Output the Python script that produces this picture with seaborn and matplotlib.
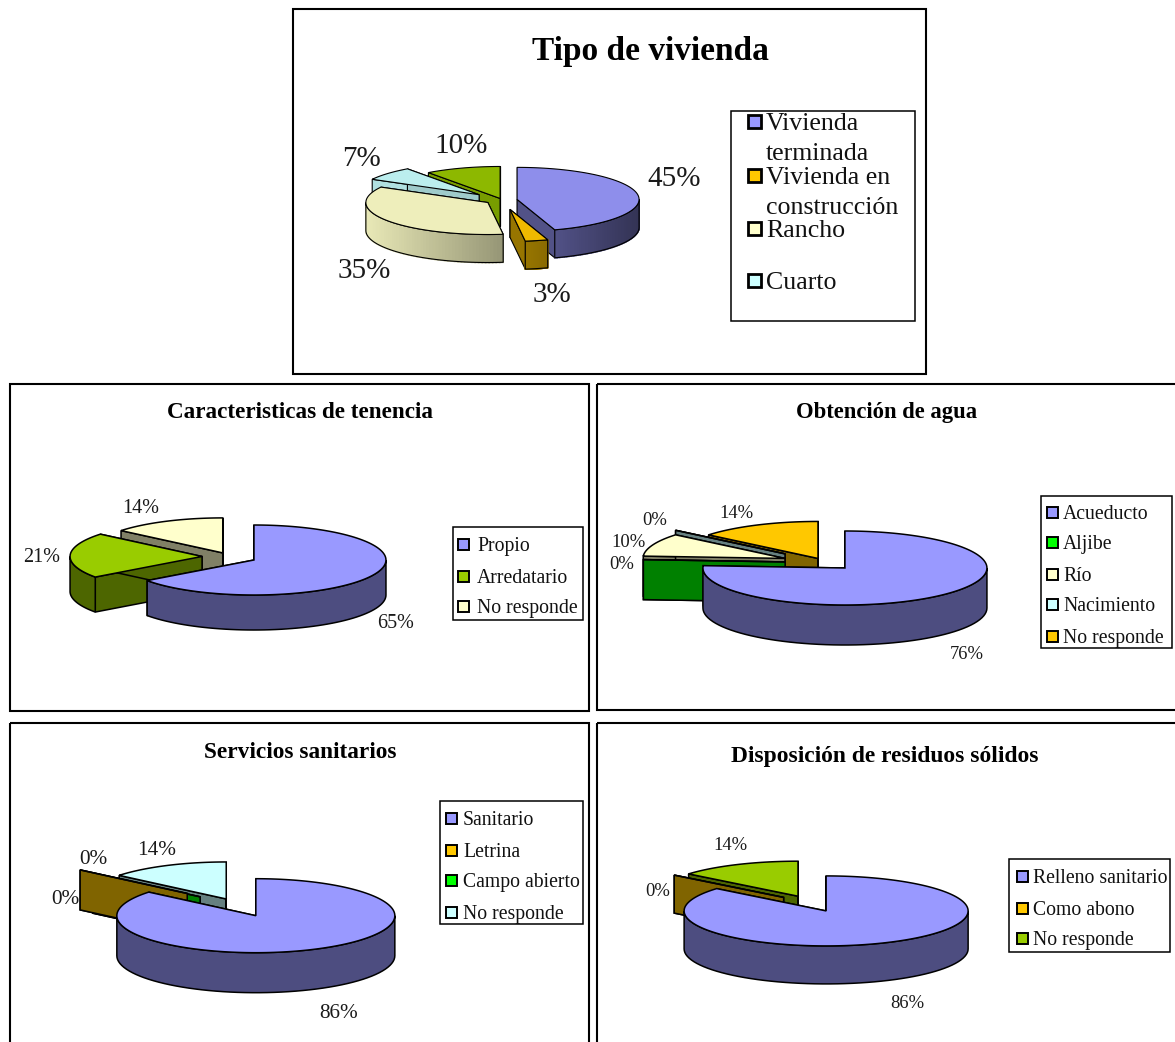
import numpy as np
import matplotlib
matplotlib.use("Agg")
import matplotlib.pyplot as plt
from matplotlib.colors import to_rgb
from matplotlib.patches import Polygon, Rectangle
import seaborn as sns

# ---------- data ----------
vivienda_labels = ["Vivienda\nterminada", "Vivienda en\nconstrucción", "Rancho", "Cuarto"]
vivienda_values = [45, 3, 35, 7, 10]
tenencia_labels = ["Propio", "Arredatario", "No responde"]
tenencia_values = [65, 21, 14]
agua_labels = ["Acueducto", "Aljibe", "Río", "Nacimiento", "No responde"]
agua_values = [76, 0, 10, 0, 14]
sanitarios_labels = ["Sanitario", "Letrina", "Campo abierto", "No responde"]
sanitarios_values = [86, 0, 0, 14]
residuos_labels = ["Relleno sanitario", "Como abono", "No responde"]
residuos_values = [86, 0, 14]

# ---------- styles ----------
PERI, ORANGE, CREAM, CYAN, LIME, GREEN = sns.color_palette(
    ["#9999FF", "#FFC800", "#FFFFCC", "#CCFFFF", "#99CC00", "#00FF00"])
MUTED = sns.color_palette(["#8E8EEB", "#EFB900", "#EEEEBB", "#BBEEEE", "#8DB800"])

panels = [
    dict(title="Tipo de vivienda", tsize=24, ty=48, tx=650, frame=(293, 9, 926, 374),
         values=vivienda_values, labels=vivienda_labels,
         colors=MUTED, legend_colors=[PERI, ORANGE, CREAM, CYAN],
         center=(502, 200), a=122, b=32, depth=28, gradient=True, lw=0.8,
         explode=[.125, .30, .14, .25, .05], lift=[0, 0, 0, 0, 0],
         label_pos=[(674, 176), (552, 292), (364, 268), (362, 156), (461, 143)], lsize=21,
         legend=(731, 111, 915, 321), mx=754, tx_leg=766, rows=[121, 175, 228, 280], fs=18.6, dy=30,
         msize=13, mlw=2.0),
    dict(title="Caracteristicas de tenencia", tsize=16.7, ty=410, tx=300, frame=(10, 384, 589, 711),
         values=tenencia_values, labels=tenencia_labels,
         colors=[PERI, LIME, CREAM], legend_colors=[PERI, LIME, CREAM],
         center=(229.5, 556.7), a=132, b=35, depth=35, gradient=False, lw=1.1,
         explode=[.208, .208, .12], lift=[0, 0, 0],
         label_pos=[(396, 621), (42, 555), (141, 506)], lsize=14.5,
         legend=(453, 527, 583, 620), mx=463, tx_leg=477, rows=[544, 576, 606], fs=14.2, dy=0,
         msize=11, mlw=1.4),
    dict(title="Obtención de agua", tsize=16.3, ty=410, tx=887, frame=(597, 384, 1300, 710),
         values=agua_values, labels=agua_labels,
         colors=[PERI, GREEN, CREAM, CYAN, ORANGE], legend_colors=[PERI, GREEN, CREAM, CYAN, ORANGE],
         center=(825.5, 562.6), a=142, b=37, depth=40, gradient=False, lw=1.1,
         explode=[.20, .285, .307, .37, .124], lift=[0, 0, 0, 0, 0],
         label_pos=[(967, 652), (622, 562), (628, 540), (655, 518), (736, 511)], lsize=13.4,
         legend=(1041, 496, 1172, 648), mx=1052, tx_leg=1063, rows=[512, 542, 574, 604, 636], fs=14.2, dy=0,
         msize=11, mlw=1.4),
    dict(title="Servicios sanitarios", tsize=16.8, ty=750, tx=300, frame=(10, 723, 589, 1100),
         values=sanitarios_values, labels=sanitarios_labels,
         colors=[PERI, ORANGE, GREEN, CYAN], legend_colors=[PERI, ORANGE, GREEN, CYAN],
         center=(244, 909), a=139, b=37, depth=40, gradient=False, lw=1.1,
         explode=[.20, .53, .41, .30], lift=[0, -3, -2.5, 0],
         label_pos=[(339, 1011), (93, 857), (65, 897), (157, 848)], lsize=15.3,
         legend=(440, 801, 583, 924), mx=451, tx_leg=463, rows=[818, 850, 880, 912], fs=14.2, dy=0,
         msize=11, mlw=1.4),
    dict(title="Disposición de residuos sólidos", tsize=16.9, ty=754, tx=885, frame=(597, 723, 1300, 1100),
         values=residuos_values, labels=residuos_labels,
         colors=[PERI, ORANGE, LIME], legend_colors=[PERI, ORANGE, LIME],
         center=(811, 903), a=142, b=35, depth=38, gradient=False, lw=1.1,
         explode=[.25, .25, .215], lift=[0, 0, 0],
         label_pos=[(907, 1001), (658, 889), (730, 843)], lsize=13.4,
         legend=(1009, 859, 1170, 952), mx=1022, tx_leg=1033, rows=[876, 908, 938], fs=14.2, dy=0,
         msize=11, mlw=1.4),
]

sns.set_theme(style="white")
plt.rcParams["font.family"] = ["Liberation Serif", "DejaVu Serif"]

fig = plt.figure(figsize=(11.75, 10.42), dpi=100)
ax = fig.add_axes([0, 0, 1, 1])
ax.set_xlim(0, 1175)
ax.set_ylim(1042, 0)
ax.axis("off")
INK = "#000000"


def shade(color, t, gradient):
    """Side-wall colour for the wall at clockwise angle t (radians)."""
    f = 0.67 - 0.31 * np.sin(t) if gradient else 0.5
    return tuple(np.clip(np.array(to_rgb(color)) * f, 0, 1))


def put(x, y, s, fs, **kw):
    """Text whose visual centre sits on y (the box centre runs a little high)."""
    ax.text(x, y + 0.15 * fs, s, va="center", fontsize=fs, **kw)


def draw_slice(p, i, t0, t1, z):
    a, b, d = p["a"], p["b"], p["depth"]
    cx, cy = p["center"]
    color, lw = p["colors"][i], p["lw"]
    mid = (t0 + t1) / 2
    tipx = cx + p["explode"][i] * a * np.sin(mid)
    tipy = cy - p["explode"][i] * b * np.cos(mid) + p["lift"][i]

    def rim(t):
        t = np.asarray(t)
        return np.column_stack([tipx + a * np.sin(t), tipy - b * np.cos(t)])

    # radial walls
    for t in (t0, t1):
        q = rim([t])[0]
        ax.add_patch(Polygon([(tipx, tipy), q, (q[0], q[1] + d), (tipx, tipy + d)],
                             closed=True, fc=shade(color, t, p["gradient"]), ec=INK, lw=lw, zorder=z))
    # outer wall, only the part facing the viewer
    lo, hi = max(t0, np.pi / 2), min(t1, 3 * np.pi / 2)
    if hi > lo:
        ts = np.linspace(lo, hi, 60)
        pts = rim(ts)
        body = np.vstack([pts, pts[::-1] + [0, d]])
        if p["gradient"]:
            for k in range(len(ts) - 1):
                s = pts[k:k + 2]
                col = shade(color, ts[k], True)
                ax.add_patch(Polygon(np.vstack([s, s[::-1] + [0, d]]), closed=True, fc=col, ec=col,
                                     lw=1.2, zorder=z + .1))
            ax.add_patch(Polygon(body, closed=True, fill=False, ec=INK, lw=lw, zorder=z + .2))
        else:
            ax.add_patch(Polygon(body, closed=True, fc=shade(color, mid, False), ec=INK, lw=lw, zorder=z + .2))
    # top face
    ts = np.linspace(t0, t1, max(3, int((t1 - t0) * 40)))
    ax.add_patch(Polygon(np.vstack([[(tipx, tipy)], rim(ts)]), closed=True, fc=color, ec=INK,
                         lw=lw, zorder=z + .3))


for p in panels:
    x0, y0, x1, y1 = p["frame"]
    ax.add_patch(Rectangle((x0, y0), x1 - x0, y1 - y0, fill=False, ec=INK, lw=1.5, zorder=1))
    put(p["tx"], p["ty"], p["title"], p["tsize"], ha="center", fontweight="bold", color=INK, zorder=50)

    vals = np.array(p["values"], float)
    edges = np.concatenate([[0], np.cumsum(vals)]) / vals.sum() * 2 * np.pi
    order = sorted(range(len(vals)),
                   key=lambda j: (round(-np.cos((edges[j] + edges[j + 1]) / 2), 6), -j))
    for z, j in enumerate(order):
        draw_slice(p, j, edges[j], edges[j + 1], 5 + z)

    for v, (lx, ly) in zip(p["values"], p["label_pos"]):
        put(lx, ly, f"{v}%", p["lsize"], ha="center", color="#1a1a1a", zorder=50)

    lx0, ly0, lx1, ly1 = p["legend"]
    ax.add_patch(Rectangle((lx0, ly0), lx1 - lx0, ly1 - ly0, fc="white", ec=INK, lw=1.1, zorder=30))
    m = p["msize"]
    for lab, col, ry in zip(p["labels"], p["legend_colors"], p["rows"]):
        ax.add_patch(Rectangle((p["mx"] - m / 2, ry - m / 2), m, m, fc=col, ec=INK, lw=p["mlw"], zorder=31))
        for n, line in enumerate(lab.split("\n")):
            put(p["tx_leg"], ry + n * p["dy"], line, p["fs"], ha="left", color="#111111", zorder=32)

fig.savefig("out.png", dpi=100, facecolor="white")
